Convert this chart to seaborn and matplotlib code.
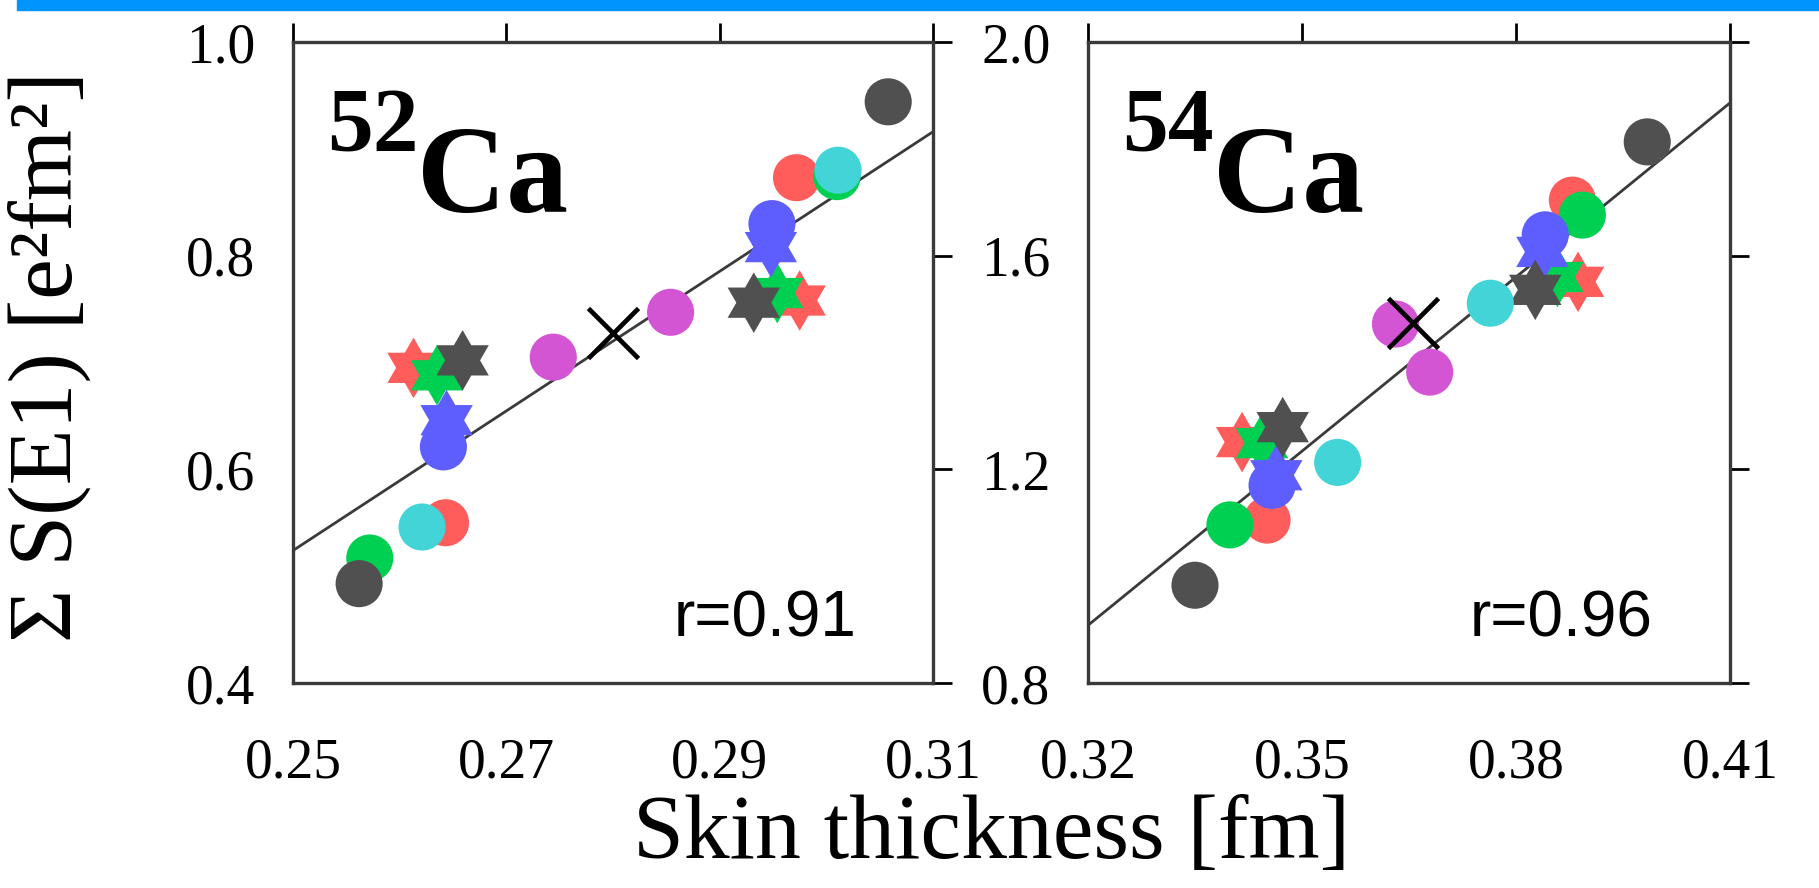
from __future__ import annotations

import matplotlib

matplotlib.use("Agg")

import matplotlib.pyplot as plt
import numpy as np
import pandas as pd
import seaborn as sns
from matplotlib.patches import Rectangle

# ---- data ------------------------------------------------------------------
# 52Ca panel
CA52_CIRCLE_MODEL = ["red", "red", "green", "green", "cyan", "cyan",
                     "blue", "blue", "magenta", "magenta", "gray", "gray"]
CA52_CIRCLE_X = [0.2972, 0.2643, 0.3010, 0.2572, 0.3011, 0.2621,
                 0.2949, 0.2641, 0.2854, 0.2744, 0.3058, 0.2562]
CA52_CIRCLE_Y = [0.873, 0.550, 0.874, 0.517, 0.880, 0.546,
                 0.830, 0.621, 0.747, 0.705, 0.944, 0.493]
CA52_STAR_MODEL = ["red", "red", "green", "green", "blue", "blue", "gray", "gray"]
CA52_STAR_X = [0.2975, 0.2613, 0.2954, 0.2635, 0.2948, 0.2644, 0.2932, 0.2659]
CA52_STAR_Y = [0.758, 0.695, 0.765, 0.688, 0.808, 0.646, 0.756, 0.702]
CA52_CROSS = (0.2800, 0.728)
CA52_FIT_X = [0.25, 0.31]
CA52_FIT_Y = [0.524, 0.916]
CA52_XTICKS = [0.25, 0.27, 0.29, 0.31]
CA52_YTICKS = [0.4, 0.6, 0.8, 1.0]
CA52_R = "r=0.91"

# 54Ca panel
CA54_CIRCLE_MODEL = CA52_CIRCLE_MODEL
CA54_CIRCLE_X = [0.3879, 0.3451, 0.3893, 0.3399, 0.3764, 0.3550,
                 0.3841, 0.3458, 0.3631, 0.3679, 0.3984, 0.3350]
CA54_CIRCLE_Y = [1.704, 1.105, 1.676, 1.096, 1.511, 1.213,
                 1.639, 1.170, 1.472, 1.382, 1.813, 0.983]
CA54_STAR_MODEL = CA52_STAR_MODEL
CA54_STAR_X = [0.3887, 0.3416, 0.3858, 0.3444, 0.3837, 0.3464, 0.3827, 0.3473]
CA54_STAR_Y = [1.551, 1.251, 1.560, 1.249, 1.607, 1.189, 1.536, 1.279]
CA54_CROSS = (0.3656, 1.474)
CA54_FIT_X = [0.32, 0.41]
CA54_FIT_Y = [0.908, 1.886]
CA54_XTICKS = [0.32, 0.35, 0.38, 0.41]
CA54_YTICKS = [0.8, 1.2, 1.6, 2.0]
CA54_R = "r=0.96"

PALETTE = {
    "red": "#FF5C5C",
    "green": "#00D052",
    "blue": "#5E5EFF",
    "gray": "#505050",
    "cyan": "#42D4D6",
    "magenta": "#D455D4",
}

SERIF = ["Liberation Serif", "DejaVu Serif"]
SANS = ["Liberation Sans", "DejaVu Sans"]


def _hexagram() -> np.ndarray:
    # six-pointed star, point up
    outer = np.deg2rad(90 + 60 * np.arange(6))
    inner = outer + np.deg2rad(30)
    r_in = 1 / np.sqrt(3)
    pts = []
    for a, b in zip(outer, inner):
        pts.append((np.cos(a), np.sin(a)))
        pts.append((r_in * np.cos(b), r_in * np.sin(b)))
    pts.append(pts[0])
    return np.array(pts)


def draw_panel(ax, circles: pd.DataFrame, stars: pd.DataFrame, cross, fit_x, fit_y,
               xticks, yticks, mass: str, r_text: str) -> None:
    star = _hexagram()
    ax.plot(fit_x, fit_y, color="#3a3a3a", lw=2.0, zorder=1)
    sns.scatterplot(data=stars, x="x", y="y", hue="model", palette=PALETTE,
                    marker=star, s=1900, linewidth=0, legend=False, ax=ax, zorder=2)
    sns.scatterplot(data=circles, x="x", y="y", hue="model", palette=PALETTE,
                    marker="o", s=1150, linewidth=0, legend=False, ax=ax, zorder=3)
    ax.scatter([cross[0]], [cross[1]], marker="x", s=1300, color="black",
               linewidths=3.4, zorder=4)

    ax.set_xlim(xticks[0], xticks[-1])
    ax.set_ylim(yticks[0], yticks[-1])
    ax.set_xticks(xticks)
    ax.set_yticks(yticks)
    ax.set_xticklabels([f"{t:.2f}" for t in xticks])
    ax.set_yticklabels([f"{t:.1f}" for t in yticks])
    ax.set_xlabel("")
    ax.set_ylabel("")
    ax.tick_params(direction="out", length=14, width=2.0, color="black",
                   labelcolor="black", top=True, right=True, labeltop=False,
                   labelright=False, labelsize=40)
    ax.tick_params(axis="x", pad=25)
    ax.tick_params(axis="y", pad=13)
    for lab in ax.get_xticklabels() + ax.get_yticklabels():
        lab.set_family(SERIF)
    for sp in ax.spines.values():
        sp.set_color("#3a3a3a")
        sp.set_linewidth(2.4)
        sp.set_visible(True)

    ax.text(0.053, 0.831, mass, transform=ax.transAxes, family=SERIF,
            fontweight="bold", fontsize=66, ha="left", va="baseline", color="black")
    ax.text(0.194, 0.735, "Ca", transform=ax.transAxes, family=SERIF,
            fontweight="bold", fontsize=89, ha="left", va="baseline", color="black")
    ax.text(0.594, 0.072, r_text, transform=ax.transAxes, family=SANS,
            fontsize=46, ha="left", va="baseline", color="black")


def main() -> None:
    sns.set_theme(style="white")
    plt.rcParams["font.family"] = SERIF
    plt.rcParams["text.color"] = "black"

    fig = plt.figure(figsize=(18.19, 8.88), dpi=100)
    fig.patch.set_facecolor("white")
    fig.patches.append(Rectangle((17 / 1819, 1 - 10 / 888), 1, 10 / 888,
                                 transform=fig.transFigure, color="#0094FF",
                                 zorder=0))

    ax1 = fig.add_axes([293 / 1819, 205 / 888, 640 / 1819, 641 / 888])
    ax2 = fig.add_axes([1088 / 1819, 205 / 888, 642 / 1819, 641 / 888])

    c52 = pd.DataFrame({"model": CA52_CIRCLE_MODEL, "x": CA52_CIRCLE_X, "y": CA52_CIRCLE_Y})
    s52 = pd.DataFrame({"model": CA52_STAR_MODEL, "x": CA52_STAR_X, "y": CA52_STAR_Y})
    c54 = pd.DataFrame({"model": CA54_CIRCLE_MODEL, "x": CA54_CIRCLE_X, "y": CA54_CIRCLE_Y})
    s54 = pd.DataFrame({"model": CA54_STAR_MODEL, "x": CA54_STAR_X, "y": CA54_STAR_Y})

    draw_panel(ax1, c52, s52, CA52_CROSS, CA52_FIT_X, CA52_FIT_Y,
               CA52_XTICKS, CA52_YTICKS, "52", CA52_R)
    draw_panel(ax2, c54, s54, CA54_CROSS, CA54_FIT_X, CA54_FIT_Y,
               CA54_XTICKS, CA54_YTICKS, "54", CA54_R)

    fig.text(49 / 1819, 1 - 357 / 888, "Σ S(E1) [e²fm²]", rotation=90,
             ha="center", va="center", fontsize=66, family=SERIF, color="black")
    fig.text(992 / 1819, 1 - 836 / 888, "Skin thickness [fm]",
             ha="center", va="center", fontsize=66, family=SERIF, color="black")

    fig.savefig("out.png", dpi=100)
    plt.close(fig)


if __name__ == "__main__":
    main()
